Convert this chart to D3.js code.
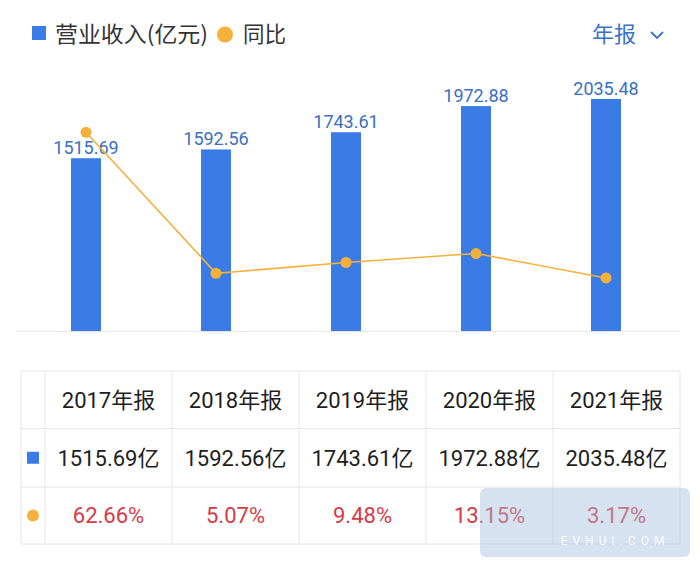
<!DOCTYPE html>
<html><head><meta charset="utf-8">
<script src="https://cdn.jsdelivr.net/npm/d3@7"></script>
<style>
html,body{margin:0;padding:0;background:#fff;}
svg{display:block;font-family:Roboto,"Noto Sans CJK SC",sans-serif;}
</style></head>
<body><svg id="c" width="700" height="568"></svg>
<script>
const categories = ["2017年报","2018年报","2019年报","2020年报","2021年报"];
const revenue = [1515.69, 1592.56, 1743.61, 1972.88, 2035.48];
const yoy = [62.66, 5.07, 9.48, 13.15, 3.17];
const seriesNames = ["营业收入(亿元)", "同比"];
const periodLabel = "年报";

const BLUE = "#3a7be6", ORANGE = "#f5b13b", LABEL = "#3a6fc2", RED = "#d83a45", GRID = "#e6e6e6";
const svg = d3.select("#c");

// Legend
svg.append("rect").attr("x",32).attr("y",26).attr("width",14).attr("height",14).attr("fill",BLUE);
svg.append("text").attr("x",55).attr("y",42).attr("font-size",22).attr("fill","#333")
  .attr("font-family","'Noto Sans CJK SC',sans-serif")
  .attr("textLength",153).attr("lengthAdjust","spacingAndGlyphs").text(seriesNames[0]);
svg.append("circle").attr("cx",225).attr("cy",34.5).attr("r",8).attr("fill",ORANGE);
svg.append("text").attr("x",243).attr("y",42).attr("font-size",21.5).attr("fill","#333")
  .attr("font-family","'Noto Sans CJK SC',sans-serif").text(seriesNames[1]);
svg.append("text").attr("x",592).attr("y",42).attr("font-size",22).attr("fill","#3a72c9")
  .attr("font-family","'Noto Sans CJK SC',sans-serif").text(periodLabel);
svg.append("path").attr("d","M651,32 L657,38 L663,32").attr("fill","none")
  .attr("stroke","#3a72c9").attr("stroke-width",1.8);

// Scales
const x = d3.scaleBand().domain(categories).range([21,671]).padding(0);
const y1 = d3.scaleLinear().domain([0,2500]).range([331,46]);
const y2 = d3.scaleLinear().domain([-18.5,81.5]).range([331,86.2]);
const barW = 30;
const cx = c => x(c) + x.bandwidth()/2;

// baseline
svg.append("line").attr("x1",16).attr("x2",680).attr("y1",331.5).attr("y2",331.5)
  .attr("stroke",GRID).attr("stroke-width",1);

// bars
svg.selectAll("rect.bar").data(categories).enter().append("rect").attr("class","bar")
  .attr("x",c=>cx(c)-barW/2).attr("width",barW)
  .attr("y",(c,i)=>y1(revenue[i])).attr("height",(c,i)=>y1(0)-y1(revenue[i]))
  .attr("fill",BLUE);

// bar labels
svg.selectAll("text.bl").data(categories).enter().append("text").attr("class","bl")
  .attr("x",c=>cx(c)).attr("y",(c,i)=>y1(revenue[i])-4)
  .attr("text-anchor","middle").attr("font-size",18).attr("fill",LABEL)
  .text((c,i)=>revenue[i].toFixed(2));

// line
const line = d3.line().x((d,i)=>cx(categories[i])).y(d=>y2(d));
svg.append("path").datum(yoy).attr("d",line).attr("fill","none")
  .attr("stroke",ORANGE).attr("stroke-width",1.6);
svg.selectAll("circle.pt").data(yoy).enter().append("circle").attr("class","pt")
  .attr("cx",(d,i)=>cx(categories[i])).attr("cy",d=>y2(d)).attr("r",5.5).attr("fill",ORANGE);

// Table
const tx = d3.scaleBand().domain(categories).range([45,680]);
const rows = [371, 428.5, 487, 544];
const tLeft = 21, tRight = 680;
const g = svg.append("g");
rows.forEach(r=>{
  g.append("line").attr("x1",tLeft).attr("x2",tRight).attr("y1",r).attr("y2",r)
   .attr("stroke",GRID).attr("stroke-width",1);
});
const vlines = [tLeft, 45].concat(categories.map(c=>tx(c)+tx.bandwidth()));
vlines.forEach(v=>{
  g.append("line").attr("x1",v).attr("x2",v).attr("y1",rows[0]).attr("y2",rows[3])
   .attr("stroke",GRID).attr("stroke-width",1);
});
const rc = i => (rows[i]+rows[i+1])/2;
g.selectAll("text.h").data(categories).enter().append("text").attr("class","h")
  .attr("x",c=>tx(c)+tx.bandwidth()/2).attr("y",rc(0)).attr("dy","0.36em")
  .attr("text-anchor","middle").attr("font-size",22).attr("fill","#1e1e1e").text(c=>c);
g.selectAll("text.v").data(categories).enter().append("text").attr("class","v")
  .attr("x",c=>tx(c)+tx.bandwidth()/2).attr("y",rc(1)).attr("dy","0.36em")
  .attr("text-anchor","middle").attr("font-size",22).attr("fill","#1e1e1e")
  .text((c,i)=>revenue[i].toFixed(2)+"亿");
g.selectAll("text.p").data(categories).enter().append("text").attr("class","p")
  .attr("x",c=>tx(c)+tx.bandwidth()/2).attr("y",rc(2)).attr("dy","0.36em")
  .attr("text-anchor","middle").attr("font-size",22).attr("fill",RED)
  .text((c,i)=>yoy[i].toFixed(2)+"%");
g.append("rect").attr("x",27).attr("y",rc(1)-6).attr("width",12).attr("height",12).attr("fill",BLUE);
g.append("circle").attr("cx",33).attr("cy",rc(2)).attr("r",6).attr("fill",ORANGE);

// watermark
const wm = svg.append("g");
wm.append("rect").attr("x",480).attr("y",488).attr("width",210).attr("height",69).attr("rx",6)
  .attr("fill","rgba(165,190,220,0.45)");
wm.append("text").attr("x",615).attr("y",545).attr("text-anchor","middle").attr("font-size",12)
  .attr("letter-spacing",5).attr("fill","rgba(255,255,255,0.85)").text("EVHUI.COM");
</script></body></html>
